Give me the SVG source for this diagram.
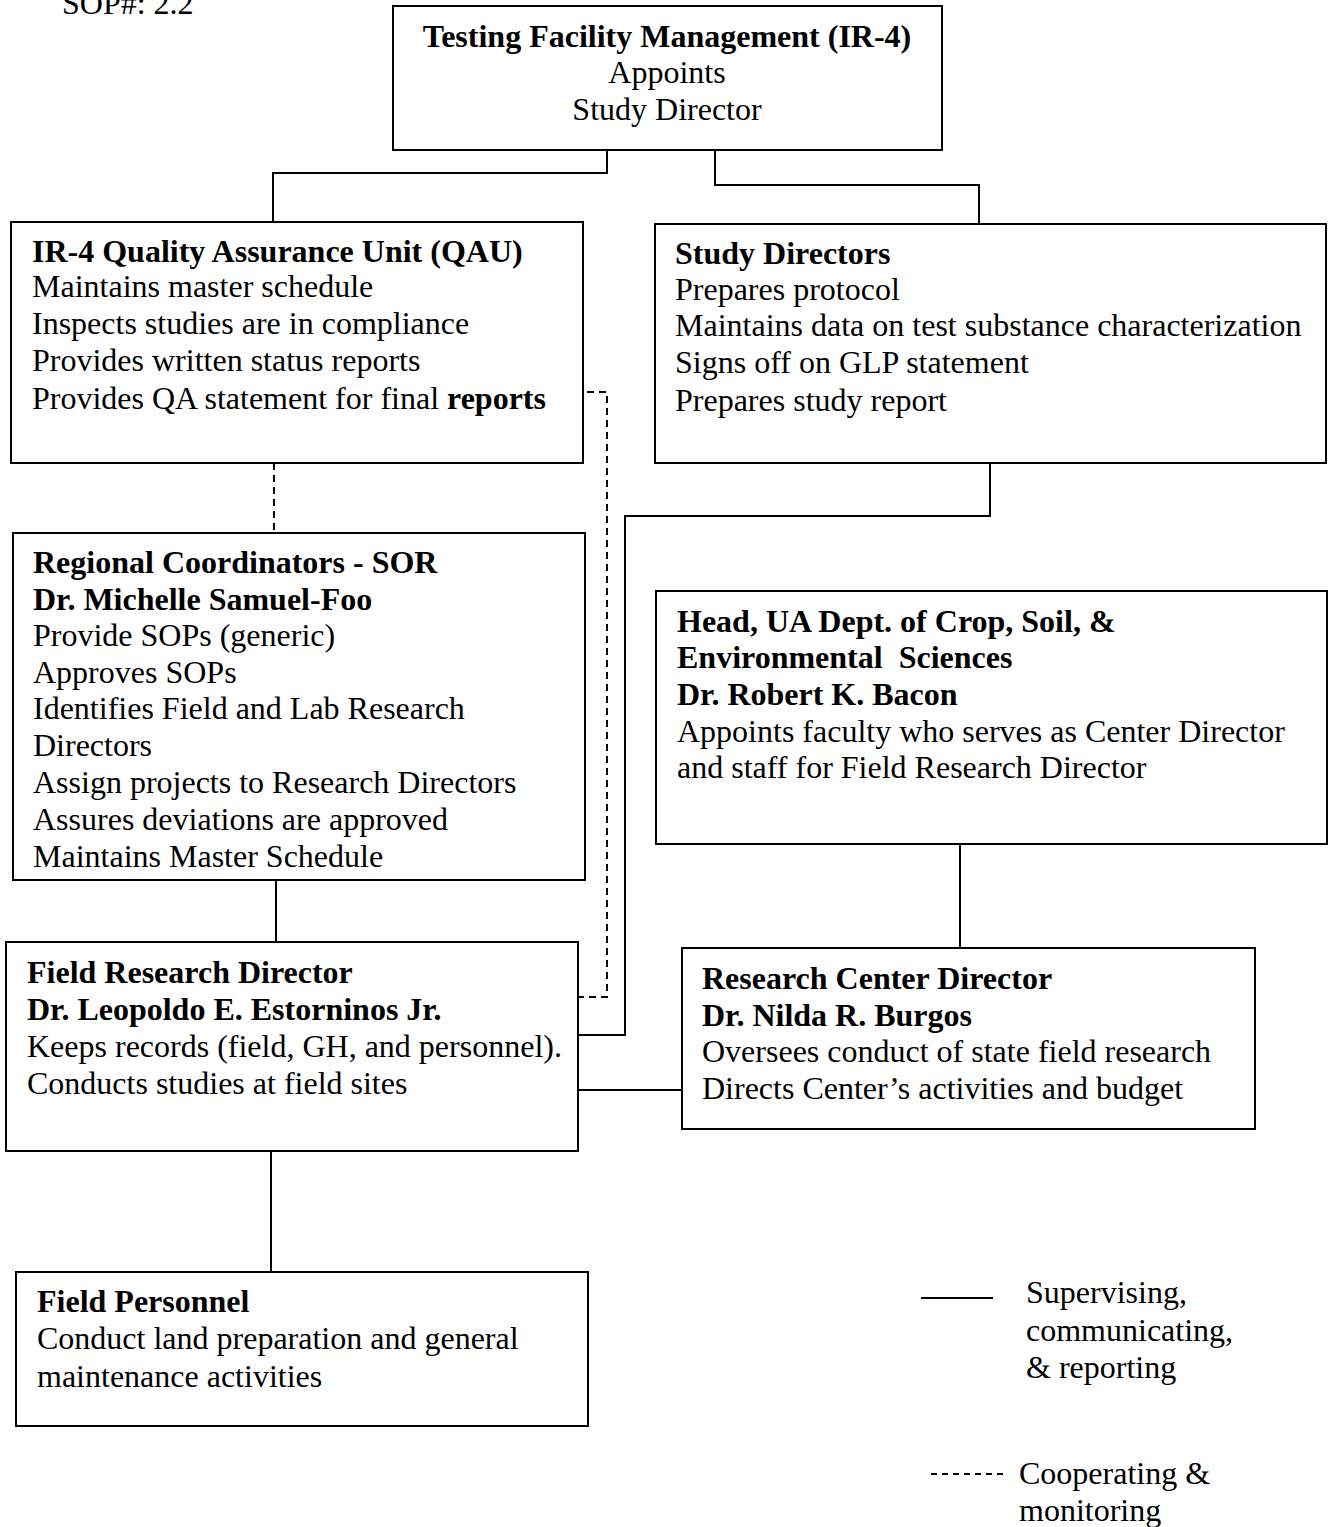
<svg xmlns="http://www.w3.org/2000/svg" width="1329" height="1527" viewBox="0 0 1329 1527">
<style>
.box{fill:#fff;stroke:#000;stroke-width:2}
.ln{fill:none;stroke:#000;stroke-width:2}
.dash{fill:none;stroke:#000;stroke-width:2;stroke-dasharray:7,5}
text{font-family:"Liberation Serif","Times New Roman",serif;font-size:32px;fill:#000}
.b{font-weight:bold}
.c{text-anchor:middle}
</style>
<rect width="1329" height="1527" fill="#fff"/>
<text x="62" y="14">SOP#: 2.2</text>
<g id="connectors">
<polyline class="ln" points="607,150 607,173 273,173 273,222"/>
<polyline class="ln" points="715,150 715,185 979,185 979,224"/>
<line class="dash" x1="274" y1="463" x2="274" y2="533"/>
<polyline class="dash" points="575,392 607,392 607,997 578,997"/>
<polyline class="ln" points="990,463 990,516 625,516 625,1035 578,1035"/>
<line class="ln" x1="276" y1="880" x2="276" y2="942"/>
<line class="ln" x1="960" y1="844" x2="960" y2="948"/>
<line class="ln" x1="578" y1="1090" x2="682" y2="1090"/>
<line class="ln" x1="271" y1="1151" x2="271" y2="1272"/>
</g>
<g id="top">
<rect class="box" x="393" y="6" width="549" height="144"/>
<text class="c b" x="667" y="47">Testing Facility Management (IR-4)</text>
<text class="c" x="667" y="83">Appoints</text>
<text class="c" x="667" y="120">Study Director</text>
</g>
<g id="qau">
<rect class="box" x="11" y="222" width="572" height="241"/>
<text class="b" x="32" y="262">IR-4 Quality Assurance Unit (QAU)</text>
<text x="32" y="297">Maintains master schedule</text>
<text x="32" y="334">Inspects studies are in compliance</text>
<text x="32" y="371">Provides written status reports</text>
<text x="32" y="409">Provides QA statement for final <tspan class="b">reports</tspan></text>
</g>
<g id="sd">
<rect class="box" x="655" y="224" width="671" height="239"/>
<text class="b" x="675" y="264">Study Directors</text>
<text x="675" y="300">Prepares protocol</text>
<text x="675" y="336">Maintains data on test substance characterization</text>
<text x="675" y="373">Signs off on GLP statement</text>
<text x="675" y="411">Prepares study report</text>
</g>
<g id="rc">
<rect class="box" x="13" y="533" width="572" height="347"/>
<text class="b" x="33" y="573">Regional Coordinators - SOR</text>
<text class="b" x="33" y="610">Dr. Michelle Samuel-Foo</text>
<text x="33" y="646">Provide SOPs (generic)</text>
<text x="33" y="683">Approves SOPs</text>
<text x="33" y="719">Identifies Field and Lab Research</text>
<text x="33" y="756">Directors</text>
<text x="33" y="793">Assign projects to Research Directors</text>
<text x="33" y="830">Assures deviations are approved</text>
<text x="33" y="867">Maintains Master Schedule</text>
</g>
<g id="head">
<rect class="box" x="656" y="591" width="671" height="253"/>
<text class="b" x="677" y="632">Head, UA Dept. of Crop, Soil, &amp;</text>
<text class="b" x="677" y="668" xml:space="preserve">Environmental  Sciences</text>
<text class="b" x="677" y="705">Dr. Robert K. Bacon</text>
<text x="677" y="742">Appoints faculty who serves as Center Director</text>
<text x="677" y="778">and staff for Field Research Director</text>
</g>
<g id="frd">
<rect class="box" x="6" y="942" width="572" height="209"/>
<text class="b" x="27" y="983">Field Research Director</text>
<text class="b" x="27" y="1020">Dr. Leopoldo E. Estorninos Jr.</text>
<text x="27" y="1057">Keeps records (field, GH, and personnel).</text>
<text x="27" y="1094">Conducts studies at field sites</text>
</g>
<g id="rcd">
<rect class="box" x="682" y="948" width="573" height="181"/>
<text class="b" x="702" y="989">Research Center Director</text>
<text class="b" x="702" y="1026">Dr. Nilda R. Burgos</text>
<text x="702" y="1062">Oversees conduct of state field research</text>
<text x="702" y="1099">Directs Center’s activities and budget</text>
</g>
<g id="fp">
<rect class="box" x="16" y="1272" width="572" height="154"/>
<text class="b" x="37" y="1312">Field Personnel</text>
<text x="37" y="1349">Conduct land preparation and general</text>
<text x="37" y="1387">maintenance activities</text>
</g>
<g id="legend">
<line class="ln" x1="921" y1="1298" x2="993" y2="1298"/>
<text x="1026" y="1303">Supervising,</text>
<text x="1026" y="1341">communicating,</text>
<text x="1026" y="1378">&amp; reporting</text>
<line class="ln" x1="931" y1="1474" x2="1005" y2="1474" stroke-dasharray="6,5" stroke-width="1.5"/>
<text x="1019" y="1484">Cooperating &amp;</text>
<text x="1019" y="1521">monitoring</text>
</g>
</svg>
